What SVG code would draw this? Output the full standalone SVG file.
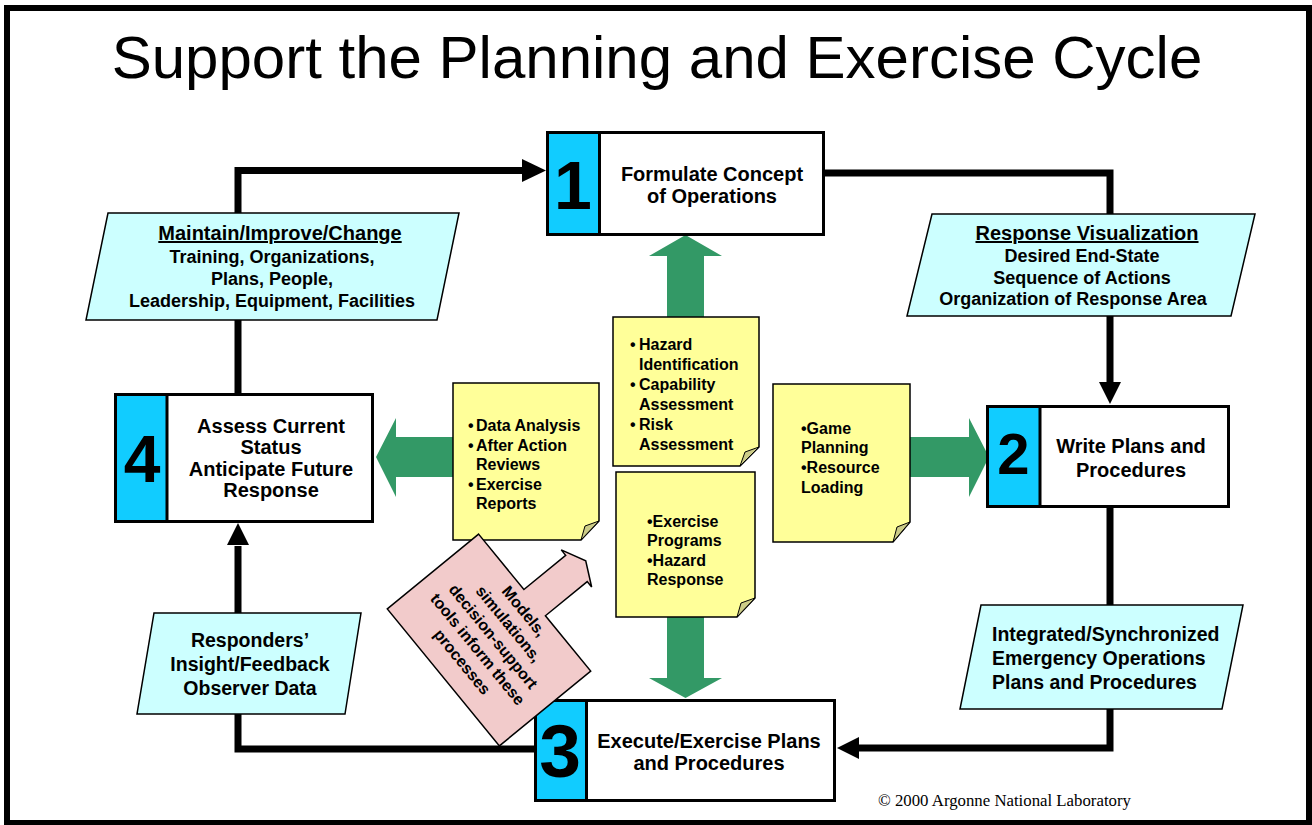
<svg xmlns="http://www.w3.org/2000/svg" width="1312" height="825" viewBox="0 0 1312 825">
<style>
text{font-family:"Liberation Sans",Arial,sans-serif;font-weight:bold;fill:#000}
.title{font-weight:normal;font-size:60px;text-anchor:middle}
.num{text-anchor:middle}
.nt{font-size:20px;text-anchor:middle}
.pt{font-size:18px;text-anchor:middle}
.ph{font-size:20px;text-anchor:middle}
.pt2{font-size:19.5px}
.st{font-size:16px}
.ct{font-size:16px;text-anchor:middle}
.copy{font-family:"Liberation Serif","Times New Roman",serif;font-weight:normal;font-size:16.8px}
.box{fill:#fff;stroke:#000;stroke-width:3}
.blue{fill:#11CCFF;stroke:#000;stroke-width:3}
.para{fill:#CCFFFF;stroke:#000;stroke-width:1.5}
.note{fill:#FFFF99;stroke:#000;stroke-width:1.5}
.fold{fill:#CCCC88;stroke:#000;stroke-width:1}
.garrow{fill:#339966}
.conn{fill:none;stroke:#000;stroke-width:7}
.head{fill:#000}
.callout{fill:#F2CBCB;stroke:#000;stroke-width:1.5}
</style>
<rect x="7" y="8" width="1302" height="815" fill="#fff" stroke="#000" stroke-width="6"/>
<text class="title" x="657" y="78">Support the Planning and Exercise Cycle</text>

<g id="connectors">
  <path class="conn" d="M238,393 V170.5 H524"/>
  <polygon class="head" points="522,159 546,170.5 522,182"/>
  <path class="conn" d="M825,173 H1110 V384"/>
  <polygon class="head" points="1099,382 1121,382 1110,404"/>
  <path class="conn" d="M1110,508 V748 H858"/>
  <polygon class="head" points="859,737 859,759 837,748"/>
  <path class="conn" d="M534,749 H238 V546"/>
  <polygon class="head" points="227,545 249,545 238,523"/>
</g>

<g id="green-arrows">
  <polygon class="garrow" points="667,320 667,256 649,256 685.5,235 722,256 704,256 704,320"/>
  <polygon class="garrow" points="667,615 667,678 649,678 685.5,698 722,678 704,678 704,615"/>
  <polygon class="garrow" points="908,437 969,437 969,418 989,457 969,497 969,477 908,477"/>
  <polygon class="garrow" points="455,437 396,437 396,418 376,457 396,497 396,477 455,477"/>
</g>

<g id="p-maintain">
  <polygon class="para" points="108,213 459,213 437,320 86,320"/>
  <text class="ph" x="280" y="240" text-decoration="underline">Maintain/Improve/Change</text>
  <text class="pt" x="272" y="263">Training, Organizations,</text>
  <text class="pt" x="272" y="285">Plans, People,</text>
  <text class="pt" x="272" y="307">Leadership, Equipment, Facilities</text>
</g>

<g id="p-response">
  <polygon class="para" points="932,214 1255,214 1231,316 907,316"/>
  <text class="ph" x="1087" y="240" text-decoration="underline">Response Visualization</text>
  <text class="pt" x="1082" y="262">Desired End-State</text>
  <text class="pt" x="1082" y="284">Sequence of Actions</text>
  <text class="pt" x="1073" y="305">Organization of Response Area</text>
</g>

<g id="p-integrated">
  <polygon class="para" points="981,605 1243,605 1222,709 960,709"/>
  <text class="pt2" x="992" y="641">Integrated/Synchronized</text>
  <text class="pt2" x="992" y="665">Emergency Operations</text>
  <text class="pt2" x="992" y="689">Plans and Procedures</text>
</g>

<g id="p-responders">
  <polygon class="para" points="154,613 361,613 345,714 137,714"/>
  <text class="pt2" x="250" y="647" text-anchor="middle">Responders’</text>
  <text class="pt2" x="250" y="671" text-anchor="middle">Insight/Feedback</text>
  <text class="pt2" x="250" y="695" text-anchor="middle">Observer Data</text>
</g>

<g id="node1">
  <rect class="box" x="547.5" y="132.5" width="276" height="102"/>
  <rect class="blue" x="547.5" y="132.5" width="52" height="102"/>
  <text class="num" x="573" y="209" font-size="68">1</text>
  <text class="nt" x="712" y="181">Formulate Concept</text>
  <text class="nt" x="712" y="203">of Operations</text>
</g>

<g id="node2">
  <rect class="box" x="987.5" y="406.5" width="241" height="100"/>
  <rect class="blue" x="987.5" y="406.5" width="52.5" height="100"/>
  <text class="num" x="1013.5" y="474" font-size="58">2</text>
  <text class="nt" x="1131" y="453">Write Plans and</text>
  <text class="nt" x="1131" y="477">Procedures</text>
</g>

<g id="node3">
  <rect class="box" x="535.5" y="700.5" width="299" height="100"/>
  <rect class="blue" x="535.5" y="700.5" width="51" height="100"/>
  <text class="num" x="560" y="777" font-size="75">3</text>
  <text class="nt" x="709" y="748">Execute/Exercise Plans</text>
  <text class="nt" x="709" y="770">and Procedures</text>
</g>

<g id="node4">
  <rect class="box" x="115.5" y="394.5" width="257" height="127"/>
  <rect class="blue" x="115.5" y="394.5" width="51.5" height="127"/>
  <text class="num" x="142" y="482" font-size="66">4</text>
  <text class="nt" x="271" y="433">Assess Current</text>
  <text class="nt" x="271" y="454">Status</text>
  <text class="nt" x="271" y="476">Anticipate Future</text>
  <text class="nt" x="271" y="497">Response</text>
</g>

<g id="note-hazard">
  <polygon class="note" points="613,317 759,317 759,447 740,466 613,466"/>
  <polygon class="fold" points="740,466 745,452 759,447"/>
  <text class="st" x="630" y="350">•</text><text class="st" x="639" y="350">Hazard</text>
  <text class="st" x="639" y="370">Identification</text>
  <text class="st" x="630" y="390">•</text><text class="st" x="639" y="390">Capability</text>
  <text class="st" x="639" y="410">Assessment</text>
  <text class="st" x="630" y="430">•</text><text class="st" x="639" y="430">Risk</text>
  <text class="st" x="639" y="450">Assessment</text>
</g>

<g id="note-data">
  <polygon class="note" points="453,383 599,383 599,521 581,540 453,540"/>
  <polygon class="fold" points="581,540 585,526 599,521"/>
  <text class="st" x="468" y="431">•</text><text class="st" x="476" y="431">Data Analysis</text>
  <text class="st" x="468" y="451">•</text><text class="st" x="476" y="451">After Action</text>
  <text class="st" x="476" y="470">Reviews</text>
  <text class="st" x="468" y="490">•</text><text class="st" x="476" y="490">Exercise</text>
  <text class="st" x="476" y="509">Reports</text>
</g>

<g id="note-exercise">
  <polygon class="note" points="616,472 755,472 755,598 737,617 616,617"/>
  <polygon class="fold" points="737,617 741,603 755,598"/>
  <text class="st" x="647" y="527">•Exercise</text>
  <text class="st" x="647" y="546">Programs</text>
  <text class="st" x="647" y="566">•Hazard</text>
  <text class="st" x="647" y="585">Response</text>
</g>

<g id="note-game">
  <polygon class="note" points="773,384 910,384 910,522 893,542 773,542"/>
  <polygon class="fold" points="893,542 897,527 910,522"/>
  <text class="st" x="801" y="434">•Game</text>
  <text class="st" x="801" y="453">Planning</text>
  <text class="st" x="801" y="473">•Resource</text>
  <text class="st" x="801" y="493">Loading</text>
</g>

<g id="callout" transform="translate(489,640) rotate(50.7)">
  <path class="callout" d="M-88.5,-59 H-17 V-113 H-24 L0,-125 L24,-113 H17 V-59 H88.5 V59 H-88.5 Z"/>
  <text class="ct" x="0" y="-40">Models,</text>
  <text class="ct" x="0" y="-20">simulations,</text>
  <text class="ct" x="0" y="0">decision-support</text>
  <text class="ct" x="0" y="20">tools inform these</text>
  <text class="ct" x="0" y="40">processes</text>
</g>

<text class="copy" x="878" y="806">© 2000 Argonne National Laboratory</text>
</svg>
